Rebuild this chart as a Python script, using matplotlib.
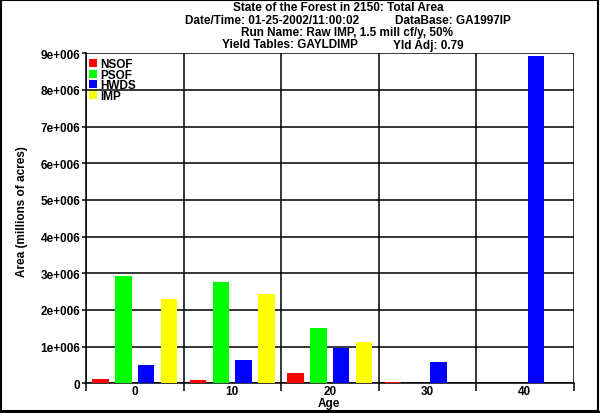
import matplotlib
matplotlib.use('Agg')
import matplotlib.pyplot as plt
from matplotlib.patches import Rectangle
from matplotlib.lines import Line2D
from matplotlib.ticker import FuncFormatter, MultipleLocator, FixedLocator

plt.rcParams['font.family'] = ['Liberation Sans', 'DejaVu Sans']
plt.rcParams['font.weight'] = 'bold'

ages = ['0', '10', '20', '30', '40']
series = ['NSOF', 'PSOF', 'HWDS', 'IMP']
colors = ['#ff0000', '#00ff00', '#0000ff', '#ffff00']
nsof = [0.12e6, 0.09e6, 0.28e6, 0.035e6, 0.0]
psof = [2.93e6, 2.76e6, 1.51e6, 0.0, 0.0]
hwds = [0.50e6, 0.635e6, 0.97e6, 0.58e6, 8.93e6]
imp = [2.30e6, 2.44e6, 1.13e6, 0.0, 0.0]
values = [nsof, psof, hwds, imp]

FS = 8.5
W, H = 600, 414
fig = plt.figure(figsize=(W / 100, H / 100), dpi=100)
ax = fig.add_axes([86 / W, (H - 384.3) / H, (573.5 - 86) / W, (384.3 - 54.3) / H])

x = list(range(len(ages)))
offsets = [-0.35, -0.117, 0.117, 0.35]
bw = 0.17
for s, vals, col, off in zip(series, values, colors, offsets):
    ax.bar([xi + off for xi in x], vals, width=bw, color=col, label=s, zorder=3)

ax.set_xlim(-0.5, len(ages) - 0.5)
ax.set_ylim(0, 9e6)
ax.yaxis.set_major_locator(MultipleLocator(1e6))

def fmt(v, pos):
    if v == 0:
        return '0'
    return '%de+006' % round(v / 1e6)

ax.yaxis.set_major_formatter(FuncFormatter(fmt))
ax.xaxis.set_major_locator(FixedLocator([i - 0.5 for i in range(len(ages) + 1)]))
ax.xaxis.set_minor_locator(FixedLocator(x))
ax.set_xticklabels([''] * (len(ages) + 1))
ax.set_xticklabels(ages, minor=True)
ax.tick_params(axis='x', which='major', length=6, width=1.1, color='black', direction='out')
ax.tick_params(axis='x', which='minor', length=0, pad=1.5, labelsize=FS)
ax.tick_params(axis='y', length=3, width=1.1, pad=1, labelsize=FS)
for lab in ax.get_xticklabels(minor=True) + ax.get_yticklabels():
    lab.set_fontweight('bold')

ax.grid(True, which='major', color='black', linewidth=1.1, zorder=1)
ax.set_axisbelow(True)
for sp in ['top', 'right']:
    ax.spines[sp].set_visible(False)
ax.spines['left'].set_linewidth(1.1)
ax.spines['bottom'].set_linewidth(1.1)

fig.text(329 / W, 1 - 404 / H, 'Age', ha='center', va='center', fontsize=FS, fontweight='bold')
fig.text(22 / W, 1 - 212 / H, 'Area (millions of acres)', ha='center', va='center',
         rotation=90, fontsize=FS, fontweight='bold')

# titles
fig.text(338 / W, 1 - 8 / H, 'State of the Forest in 2150: Total Area', ha='center', va='center',
         fontsize=FS, fontweight='bold')
fig.text(185 / W, 1 - 20.5 / H, 'Date/Time: 01-25-2002/11:00:02', ha='left', va='center',
         fontsize=FS, fontweight='bold')
fig.text(395 / W, 1 - 20.5 / H, 'DataBase: GA1997IP', ha='left', va='center',
         fontsize=FS, fontweight='bold')
fig.text(347 / W, 1 - 33 / H, 'Run Name: Raw IMP, 1.5 mill cf/y, 50%', ha='center', va='center',
         fontsize=FS, fontweight='bold')
fig.text(222 / W, 1 - 45.5 / H, 'Yield Tables: GAYLDIMP', ha='left', va='center',
         fontsize=FS, fontweight='bold')
fig.text(393 / W, 1 - 45.5 / H, 'Yld Adj: 0.79', ha='left', va='center',
         fontsize=FS, fontweight='bold')

leg = ax.legend(loc='upper left', bbox_to_anchor=(2.5 / 487.5, 1 - 5 / 330), frameon=False,
                borderaxespad=0, borderpad=0, handlelength=0.7, handleheight=0.7,
                handletextpad=0.3, labelspacing=-0.12, prop={'size': FS, 'weight': 'bold'})
leg.set_zorder(5)

# figure border
fig.add_artist(Rectangle((0.5 / W, 2.5 / H), (W - 2.5) / W, (H - 3.5) / H, transform=fig.transFigure,
                         fill=False, edgecolor='black', linewidth=1.5))
fig.add_artist(Line2D([0, 1], [1.5 / H, 1.5 / H], transform=fig.transFigure, color='black', linewidth=2.5))

fig.savefig('out.png', dpi=100)
